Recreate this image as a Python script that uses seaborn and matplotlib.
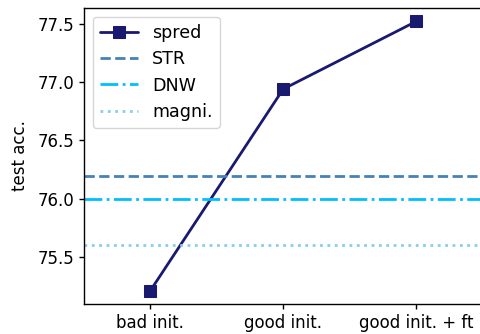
import matplotlib
matplotlib.use("Agg")
import matplotlib.pyplot as plt
import seaborn as sns
import pandas as pd

# settings compared on the x axis
settings = ["bad init.", "good init.", "good init. + ft"]
spred_acc = [75.21, 76.94, 77.52]

# reference accuracies of the other methods
baseline_names = ["STR", "DNW", "magni."]
baseline_acc = [76.19, 76.00, 75.60]
baseline_styles = ["--", "-.", ":"]
baseline_colors = ["#4682B4", "#00BFFF", "#87CEEB"]

sns.set_style("ticks", {
    "text.color": "black",
    "axes.labelcolor": "black",
    "xtick.color": "black",
    "ytick.color": "black",
    "axes.edgecolor": "black",
})
plt.rcParams["font.family"] = ["DejaVu Sans"]
plt.rcParams["font.size"] = 12

fig = plt.figure(figsize=(4.8, 3.34), dpi=100)
ax = fig.add_axes([0.175, 0.0898, 0.8302, 0.8862])

df = pd.DataFrame({"setting": settings, "acc": spred_acc})
sns.lineplot(data=df, x="setting", y="acc", ax=ax, color="#191970",
             marker="s", markersize=8.5, linewidth=2, label="spred",
             markeredgecolor="#191970")

for name, val, ls, col in zip(baseline_names, baseline_acc, baseline_styles, baseline_colors):
    ax.axhline(val, linestyle=ls, color=col, linewidth=2, label=name)

ax.set_xlim(-0.5, 2.5)
ax.set_xlabel("")
ax.set_ylabel("test acc.", fontsize=12, labelpad=6)
ax.set_yticks([75.5, 76.0, 76.5, 77.0, 77.5])
ax.set_yticklabels(["75.5", "76.0", "76.5", "77.0", "77.5"])
ax.tick_params(labelsize=12, color="black", width=1)
for s in ax.spines.values():
    s.set_visible(True)
    s.set_color("black")
    s.set_linewidth(1)
ax.legend(loc="upper left", fontsize=12.6, edgecolor="#cccccc", framealpha=0.8,
          handlelength=2.2, labelspacing=0.48)

fig.savefig("out.png", dpi=100)
